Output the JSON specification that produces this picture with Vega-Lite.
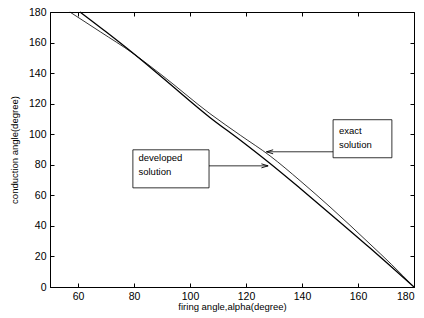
{
  "$schema": "https://vega.github.io/schema/vega-lite/v6.json",
  "width": 364,
  "height": 275,
  "autosize": "none",
  "padding": {"left": 50, "top": 12, "right": 10, "bottom": 31},
  "background": "white",
  "config": {
    "view": {"stroke": "black", "strokeWidth": 1},
    "axis": {
      "grid": false,
      "domainColor": "black",
      "tickColor": "black",
      "labelColor": "black",
      "titleColor": "black",
      "labelFont": "Liberation Sans",
      "titleFont": "Liberation Sans",
      "labelFontSize": 10.5,
      "titleFontSize": 9.5,
      "titleFontWeight": "normal"
    },
    "text": {"font": "Liberation Sans"}
  },
  "datasets": {
    "curves": [
      {"series": "exact", "alpha": 57.1, "cond": 180},
      {"series": "exact", "alpha": 68, "cond": 167.0},
      {"series": "exact", "alpha": 79.6, "cond": 153.0},
      {"series": "exact", "alpha": 90, "cond": 138.6},
      {"series": "exact", "alpha": 107.1, "cond": 113.5},
      {"series": "exact", "alpha": 118, "cond": 99.3},
      {"series": "exact", "alpha": 128.6, "cond": 85.8},
      {"series": "exact", "alpha": 139.3, "cond": 69.6},
      {"series": "exact", "alpha": 150, "cond": 52.4},
      {"series": "exact", "alpha": 164.3, "cond": 28.1},
      {"series": "exact", "alpha": 172, "cond": 14.7},
      {"series": "exact", "alpha": 180, "cond": 0},
      {"series": "developed", "alpha": 60.7, "cond": 180},
      {"series": "developed", "alpha": 70, "cond": 167.0},
      {"series": "developed", "alpha": 79.6, "cond": 153.1},
      {"series": "developed", "alpha": 90, "cond": 137.3},
      {"series": "developed", "alpha": 107.1, "cond": 111.0},
      {"series": "developed", "alpha": 118, "cond": 96.0},
      {"series": "developed", "alpha": 128.6, "cond": 80.8},
      {"series": "developed", "alpha": 139.3, "cond": 64.6},
      {"series": "developed", "alpha": 150, "cond": 48.0},
      {"series": "developed", "alpha": 164.3, "cond": 25.5},
      {"series": "developed", "alpha": 172, "cond": 13.1},
      {"series": "developed", "alpha": 180, "cond": 0}
    ],
    "boxes": [
      {"label": "developed", "x1": 79.6, "x2": 106.8, "y1": 64.9, "y2": 89.8},
      {"label": "exact", "x1": 151.1, "x2": 172.1, "y1": 84.6, "y2": 109.5}
    ],
    "texts": [
      {"t": "developed", "x": 81.6, "y": 84.5},
      {"t": "solution", "x": 81.6, "y": 75.2},
      {"t": "exact", "x": 153.2, "y": 102.3},
      {"t": "solution", "x": 153.2, "y": 92.8}
    ],
    "arrows": [
      {"dir": "right", "x1": 106.8, "x2": 127.9, "y": 79.3},
      {"dir": "left", "x1": 151.1, "x2": 127.3, "y": 88.5}
    ]
  },
  "resolve": {"axis": {"x": "independent", "y": "independent"}},
  "layer": [
    {
      "data": {"name": "curves"},
      "mark": {"type": "line", "color": "black", "interpolate": "monotone"},
      "encoding": {
        "x": {"field": "alpha", "type": "quantitative",
          "scale": {"domain": [50, 180], "nice": false, "zero": false},
          "axis": {"orient": "bottom", "values": [60, 80, 100, 120, 140, 160, 180], "tickSize": -4, "labelPadding": 8, "title": "firing angle,alpha(degree)", "titlePadding": 0}},
        "y": {"field": "cond", "type": "quantitative",
          "scale": {"domain": [0, 180], "nice": false},
          "axis": {"orient": "left", "values": [0, 20, 40, 60, 80, 100, 120, 140, 160, 180], "tickSize": -4, "labelPadding": 8, "title": "conduction angle(degree)", "titlePadding": 9}},
        "detail": {"field": "series"},
        "strokeWidth": {"field": "series", "type": "nominal",
          "scale": {"domain": ["developed", "exact"], "range": [1.3, 0.8]}, "legend": null}
      }
    },
    {
      "data": {"name": "curves"},
      "mark": {"type": "line", "opacity": 0},
      "encoding": {
        "x": {"field": "alpha", "type": "quantitative",
          "axis": {"orient": "top", "values": [60, 80, 100, 120, 140, 160, 180], "tickSize": -4, "labels": false, "title": null, "domain": false}},
        "y": {"field": "cond", "type": "quantitative",
          "axis": {"orient": "right", "values": [0, 20, 40, 60, 80, 100, 120, 140, 160, 180], "tickSize": -4, "labels": false, "title": null, "domain": false}},
        "detail": {"field": "series"}
      }
    },
    {
      "data": {"name": "boxes"},
      "mark": {"type": "rect", "fill": "white", "stroke": "black", "strokeWidth": 0.8},
      "encoding": {
        "x": {"field": "x1", "type": "quantitative", "axis": null},
        "x2": {"field": "x2"},
        "y": {"field": "y1", "type": "quantitative", "axis": null},
        "y2": {"field": "y2"}
      }
    },
    {
      "data": {"name": "texts"},
      "mark": {"type": "text", "align": "left", "baseline": "middle", "fontSize": 9.5, "color": "black"},
      "encoding": {
        "x": {"field": "x", "type": "quantitative", "axis": null},
        "y": {"field": "y", "type": "quantitative", "axis": null},
        "text": {"field": "t"}
      }
    },
    {
      "data": {"name": "arrows"},
      "mark": {"type": "rule", "color": "black", "strokeWidth": 0.8},
      "encoding": {
        "x": {"field": "x1", "type": "quantitative", "axis": null},
        "x2": {"field": "x2"},
        "y": {"field": "y", "type": "quantitative", "axis": null}
      }
    },
    {
      "data": {"name": "arrows"},
      "mark": {"type": "point", "filled": false, "stroke": "black", "strokeWidth": 0.9, "opacity": 1, "size": 180},
      "encoding": {
        "x": {"field": "x2", "type": "quantitative", "axis": null},
        "y": {"field": "y", "type": "quantitative", "axis": null},
        "shape": {"field": "dir", "type": "nominal",
          "scale": {"domain": ["right", "left"], "range": ["M-1,-0.3L0,0L-1,0.3", "M1,-0.3L0,0L1,0.3"]}, "legend": null}
      }
    }
  ]
}
